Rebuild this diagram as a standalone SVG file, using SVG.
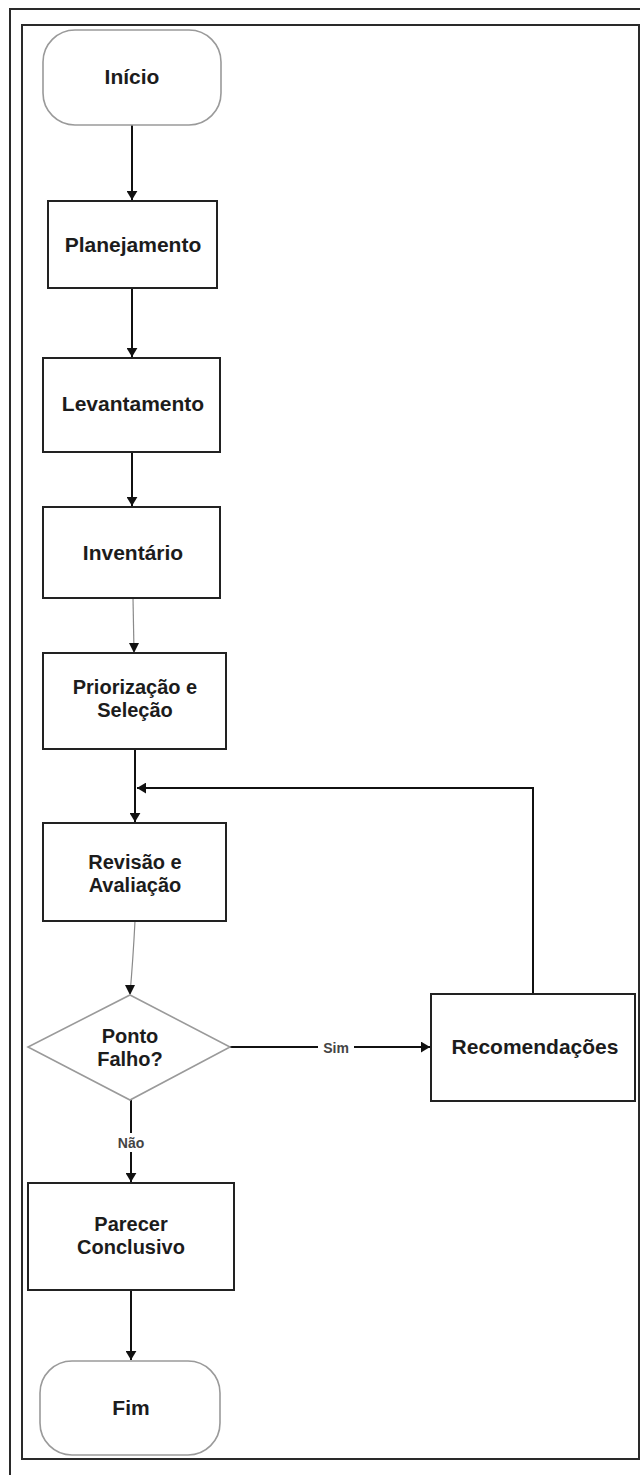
<svg xmlns="http://www.w3.org/2000/svg" width="640" height="1475" viewBox="0 0 640 1475">
<style>
.frame{fill:none;stroke:#2a2a2a;stroke-width:2}
.box{fill:#fff;stroke:#222;stroke-width:2}
.term{fill:#fff;stroke:#9a9a9a;stroke-width:1.6}
.dec{fill:#fff;stroke:#9a9a9a;stroke-width:1.6}
.lbl{font-family:"Liberation Sans",Arial,sans-serif;font-size:21px;font-weight:bold;fill:#1c1c1c;text-anchor:middle}
.lbl2{font-family:"Liberation Sans",Arial,sans-serif;font-size:20px;font-weight:bold;fill:#1c1c1c;text-anchor:middle}
.elbl{font-family:"Liberation Sans",Arial,sans-serif;font-size:14px;font-weight:bold;fill:#444;text-anchor:middle}
.edge{fill:none;stroke:#111;stroke-width:2}
.thin{fill:none;stroke:#8a8a8a;stroke-width:1.2}
</style>
<defs>
<marker id="arr" viewBox="0 0 10 12" refX="10" refY="6" markerWidth="9" markerHeight="11" markerUnits="userSpaceOnUse" orient="auto">
<path d="M0,0 L10,6 L0,12 z" fill="#111"/>
</marker>
</defs>
<rect width="640" height="1475" fill="#fff"/>
<g id="frames">
<path class="frame" d="M640,9 H10 V1475"/>
<rect class="frame" x="22" y="25" width="617" height="1434"/>
</g>
<g id="connectors">
<path class="edge" d="M132,125 V200" marker-end="url(#arr)"/>
<path class="edge" d="M132,288 V357" marker-end="url(#arr)"/>
<path class="edge" d="M132,452 V506" marker-end="url(#arr)"/>
<path class="thin" d="M133,598 L134,652"/>
<path d="M129,643 L139,643 L134,653 z" fill="#111"/>
<path class="edge" d="M135,749 V822" marker-end="url(#arr)"/>
<path class="edge" d="M533,994 V788 H137" marker-end="url(#arr)"/>
<path class="thin" d="M135,921 Q133,960 130,994"/>
<path d="M125,985 L135,985 L130,995 z" fill="#111"/>
<path class="edge" d="M230,1047 H430" marker-end="url(#arr)"/>
<rect x="318" y="1039" width="36" height="17" fill="#fff"/>
<text class="elbl" x="336" y="1053">Sim</text>
<path class="edge" d="M131,1100 V1182" marker-end="url(#arr)"/>
<rect x="113" y="1133" width="37" height="19" fill="#fff"/>
<text class="elbl" x="131" y="1148">Não</text>
<path class="edge" d="M131,1290 V1360" marker-end="url(#arr)"/>
</g>
<g id="inicio">
<rect class="term" x="43" y="30" width="178" height="95" rx="32" ry="32"/>
<text class="lbl" x="132" y="83.5">Início</text>
</g>
<g id="planejamento">
<rect class="box" x="48" y="201" width="169" height="87"/>
<text class="lbl" x="133" y="251.5">Planejamento</text>
</g>
<g id="levantamento">
<rect class="box" x="43" y="358" width="177" height="94"/>
<text class="lbl" x="133" y="410.5">Levantamento</text>
</g>
<g id="inventario">
<rect class="box" x="43" y="507" width="177" height="91"/>
<text class="lbl" x="133" y="559.5">Inventário</text>
</g>
<g id="priorizacao">
<rect class="box" x="43" y="653" width="183" height="96"/>
<text class="lbl2" x="135" y="694">Priorização e</text>
<text class="lbl2" x="135" y="717">Seleção</text>
</g>
<g id="revisao">
<rect class="box" x="43" y="823" width="183" height="98"/>
<text class="lbl2" x="135" y="869">Revisão e</text>
<text class="lbl2" x="135" y="892">Avaliação</text>
</g>
<g id="ponto-falho">
<polygon class="dec" points="130,995 230,1047 130,1100 28,1047"/>
<text class="lbl2" x="130" y="1043">Ponto</text>
<text class="lbl2" x="130" y="1066">Falho?</text>
</g>
<g id="recomendacoes">
<rect class="box" x="431" y="994" width="204" height="107"/>
<text class="lbl" x="535" y="1053.5">Recomendações</text>
</g>
<g id="parecer">
<rect class="box" x="28" y="1183" width="206" height="107"/>
<text class="lbl2" x="131" y="1231">Parecer</text>
<text class="lbl2" x="131" y="1254">Conclusivo</text>
</g>
<g id="fim">
<rect class="term" x="40" y="1361" width="180" height="94" rx="32" ry="32"/>
<text class="lbl" x="131" y="1414.5">Fim</text>
</g>
</svg>
